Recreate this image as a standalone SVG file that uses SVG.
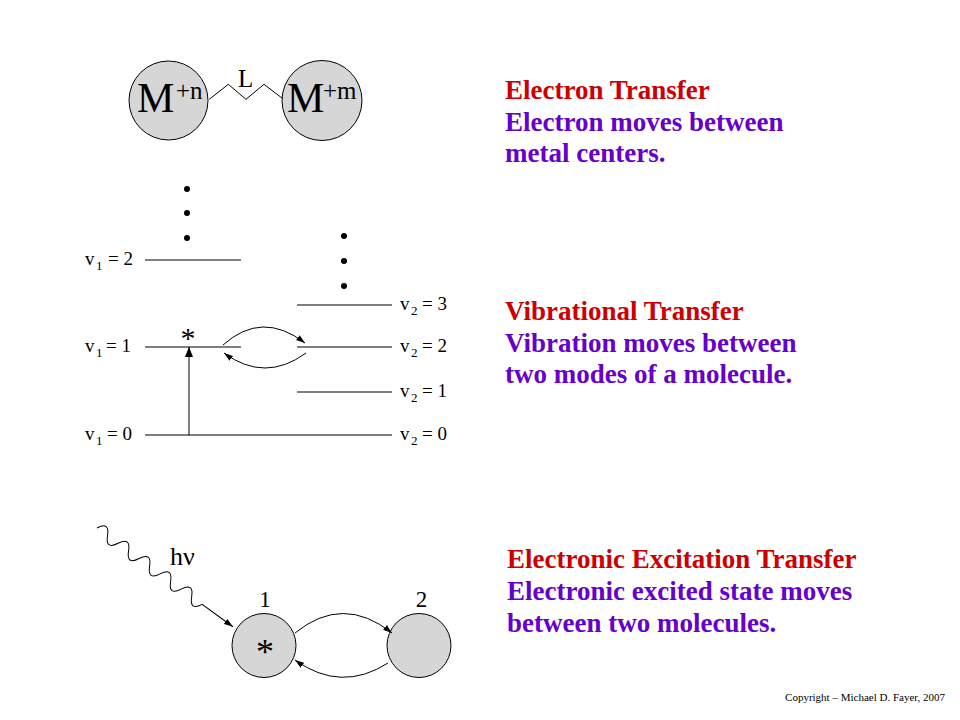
<svg xmlns="http://www.w3.org/2000/svg" width="960" height="720" viewBox="0 0 960 720">
<style>
text{font-family:"Liberation Serif","Times New Roman",serif;fill:#000}
.ball{fill:#d6d6d6;stroke:#000;stroke-width:1}
.lvl{stroke:#000;stroke-width:1.2;fill:none}
.conn{stroke:#000;stroke-width:1;fill:none}
.lbl{font-size:19px}
.sub{font-size:13px}
.title{font-size:27px;font-weight:bold;fill:#cc0000}
.desc{font-size:27px;font-weight:bold;fill:#6600cc}
.dot{fill:#000}
</style>
<defs>
<marker id="ah" markerWidth="9" markerHeight="7" refX="9" refY="3.5" orient="auto" markerUnits="userSpaceOnUse"><path d="M0,0.5 L9,3.5 L0,6.5 z" fill="#000"/></marker>
<marker id="ahb" markerWidth="10" markerHeight="9" refX="10" refY="4.5" orient="auto" markerUnits="userSpaceOnUse"><path d="M0,0.5 L10,4.5 L0,8.5 z" fill="#000"/></marker>
</defs>
<rect width="960" height="720" fill="#fff"/>

<!-- Electron transfer -->
<g id="metal-n">
<circle class="ball" cx="168.5" cy="100.5" r="39.5"/>
<text x="137" y="112" font-size="42">M</text>
<text x="176" y="99" font-size="25">+n</text>
</g>
<g id="metal-m">
<circle class="ball" cx="322" cy="100.5" r="40"/>
<text x="287" y="112" font-size="42">M</text>
<text x="323" y="99" font-size="25">+m</text>
</g>
<g id="ligand">
<text x="238" y="87" font-size="25">L</text>
</g>

<g id="dots">
<circle class="dot" cx="187" cy="189" r="3"/>
<circle class="dot" cx="187" cy="213" r="3"/>
<circle class="dot" cx="187" cy="238" r="3"/>
<circle class="dot" cx="344" cy="236" r="3"/>
<circle class="dot" cx="344" cy="261" r="3"/>
<circle class="dot" cx="344" cy="286" r="3"/>
</g>

<!-- Vibrational levels -->
<g id="levels-1">
<line class="lvl" x1="145" y1="260" x2="241" y2="260"/>
<line class="lvl" x1="145" y1="347" x2="241" y2="347"/>
<line class="lvl" x1="145" y1="435" x2="392" y2="435"/>
<text class="lbl" x="85" y="265">v</text><text class="sub" x="96" y="270">1</text><text class="lbl" x="133" y="265" text-anchor="end">= 2</text>
<text class="lbl" x="85" y="352">v</text><text class="sub" x="96" y="357">1</text><text class="lbl" x="131" y="352" text-anchor="end">= 1</text>
<text class="lbl" x="85" y="440">v</text><text class="sub" x="96" y="445">1</text><text class="lbl" x="132" y="440" text-anchor="end">= 0</text>
<text x="188" y="348" font-size="30" text-anchor="middle">*</text>
</g>
<g id="levels-2">
<line class="lvl" x1="297" y1="305" x2="392" y2="305"/>
<line class="lvl" x1="297" y1="347" x2="392" y2="347"/>
<line class="lvl" x1="297" y1="392" x2="392" y2="392"/>
<text class="lbl" x="400" y="310">v</text><text class="sub" x="411" y="315">2</text><text class="lbl" x="447" y="310" text-anchor="end">= 3</text>
<text class="lbl" x="400" y="352">v</text><text class="sub" x="411" y="357">2</text><text class="lbl" x="447" y="352" text-anchor="end">= 2</text>
<text class="lbl" x="400" y="397">v</text><text class="sub" x="411" y="402">2</text><text class="lbl" x="447" y="397" text-anchor="end">= 1</text>
<text class="lbl" x="400" y="440">v</text><text class="sub" x="411" y="445">2</text><text class="lbl" x="447" y="440" text-anchor="end">= 0</text>
</g>

<!-- Electronic excitation transfer -->
<g id="molecule-1">
<circle class="ball" cx="264" cy="645.5" r="32"/>
<text x="265" y="606.5" font-size="23" text-anchor="middle">1</text>
<text x="265" y="664" font-size="36" text-anchor="middle">*</text>
</g>
<g id="molecule-2">
<circle class="ball" cx="419" cy="645.5" r="32"/>
<text x="421.5" y="606.5" font-size="23" text-anchor="middle">2</text>
</g>
<g id="photon-label">
<text x="170" y="565" font-size="26">hν</text>
</g>

<g id="connectors">
<polyline class="conn" points="209.3,99.3 228.3,84.3 246,99.3 264,84.3 282.3,98.3"/>
<line class="conn" x1="189" y1="435" x2="189" y2="347" stroke-width="1.2" marker-end="url(#ahb)"/>
<path class="conn" d="M223,345 Q262,310 305,343" marker-end="url(#ah)"/>
<path class="conn" d="M306,353 Q265,383 224,353" marker-end="url(#ah)"/>
<path class="conn" d="M295,633 Q343,594 392,633" marker-end="url(#ah)"/>
<path class="conn" d="M388,663 Q341,693 295,660" marker-end="url(#ah)"/>
<g transform="translate(97,528) rotate(36)">
<path class="conn" d="M0,0 q6.5,-13 13,0 t13,0 t13,0 t13,0 t13,0 t13,0 t13,0 t13,0 t13,0 t13,0 L168,0" marker-end="url(#ah)"/>
</g>
</g>

<!-- Captions -->
<g id="caption-electron">
<text class="title" x="505" y="99">Electron Transfer</text>
<text class="desc" x="505" y="131">Electron moves between</text>
<text class="desc" x="505" y="162">metal centers.</text>
</g>
<g id="caption-vibrational">
<text class="title" x="505" y="320">Vibrational Transfer</text>
<text class="desc" x="505" y="352">Vibration moves between</text>
<text class="desc" x="505" y="383">two modes of a molecule.</text>
</g>
<g id="caption-electronic">
<text class="title" x="507" y="568">Electronic Excitation Transfer</text>
<text class="desc" x="507" y="600">Electronic excited state moves</text>
<text class="desc" x="507" y="632">between two molecules.</text>
</g>
<text x="945" y="701" font-size="11" text-anchor="end">Copyright – Michael D. Fayer, 2007</text>
</svg>
